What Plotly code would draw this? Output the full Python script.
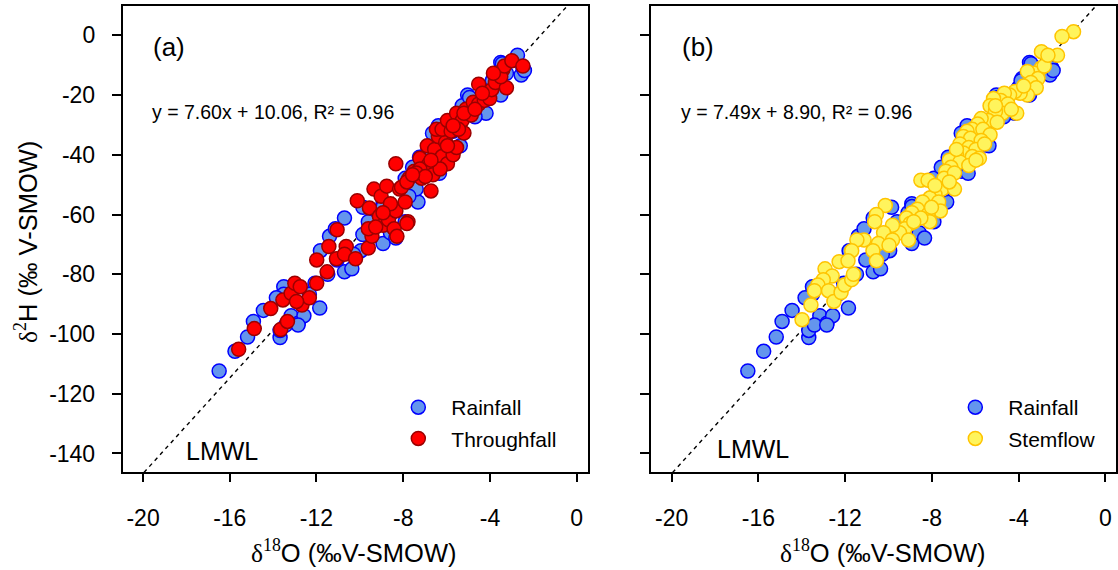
import plotly.graph_objects as go

# ---------------- data ----------------
rain_x = [-16.49, -15.76, -15.18, -14.91, -14.45, -13.68, -13.68, -13.51, -13.51, -13.17,
          -12.84, -12.58, -11.85, -12.07, -11.48, -11.40, -10.71, -10.71, -10.37, -9.86,
          -9.86, -8.93, -8.59, -8.34, -9.10, -7.91, -7.32, -7.40, -7.91, -7.57,
          -7.06, -6.55, -6.38, -5.70, -5.87, -5.37, -5.03, -4.94, -4.18, -4.01,
          -3.50, -3.84, -3.50, -2.73, -2.56, -2.48, -3.24, -4.52, -5.54, -6.89,
          -8.59, -9.95, -10.29, -11.82, -12.33, -13.85, -6.63, -6.21, -7.74, -8.93,
          -9.61, -5.28, -4.69, -11.13, -8.92, -3.43, -2.41, -3.89, -4.94,
          -6.65, -7.25, -6.33, -13.42, -12.85, -11.05]
rain_y = [-112.4, -105.8, -101.0, -95.8, -92.1, -101.2, -98.8, -84.2, -86.7, -93.9,
          -96.4, -93.9, -91.3, -83.0, -80.0, -67.3, -61.2, -79.2, -78.2, -66.7,
          -57.6, -69.7, -66.1, -67.9, -59.4, -62.4, -55.8, -51.5, -47.9, -44.2,
          -40.6, -33.9, -30.3, -32.1, -40.6, -37.0, -20.0, -26.1, -26.1, -17.6,
          -20.0, -14.5, -9.1, -6.7, -13.3, -10.9, -12.7, -22.4, -29.7, -45.5,
          -60.0, -72.1, -73.3, -72.1, -86.7, -87.9, -45.5, -39.4, -53.9, -56.4,
          -62.4, -23.6, -27.3, -64.8, -57.3, -9.5, -11.8, -15.2, -20.8,
          -32.8, -40.8, -46.2, -97.0, -97.0, -75.2]

through_x = [-15.59, -14.87, -14.11, -13.65, -13.34, -13.55, -13.17, -13.00, -12.75, -12.67,
             -12.33, -12.92, -11.99, -11.99, -11.51, -11.43, -11.05, -11.08, -10.63, -10.71,
             -10.20, -10.12, -9.61, -9.56, -9.44, -9.35, -9.02, -9.10, -8.76, -8.93,
             -8.68, -8.42, -8.34, -8.29, -8.17, -8.08, -7.91, -8.34, -7.78, -7.74,
             -7.49, -7.23, -7.06, -7.15, -6.81, -6.72, -6.63, -6.89, -6.55, -6.38,
             -6.21, -6.04, -6.47, -6.21, -5.96, -5.96, -5.70, -5.54, -5.79, -5.54,
             -5.20, -5.28, -5.11, -4.86, -4.77, -4.52, -4.52, -4.26, -4.01, -3.92,
             -3.75, -3.24, -3.41, -3.50, -3.33, -2.99, -2.48, -3.84, -4.35, -5.45,
             -5.70, -6.30, -7.23, -7.40, -6.98, -9.61, -9.27, -7.83, -8.59, -8.93,
             -6.72, -5.96, -5.20, -4.69, -7.83, -7.57]
through_y = [-105.1, -98.2, -91.5, -98.5, -95.8, -88.6, -86.4, -83.0, -84.2, -90.3,
             -87.9, -89.1, -83.0, -75.2, -79.2, -70.7, -65.1, -74.8, -70.7, -73.3,
             -74.8, -55.4, -71.2, -57.8, -67.3, -51.5, -53.9, -60.6, -50.5, -63.6,
             -61.8, -64.8, -58.8, -67.3, -51.5, -50.9, -55.8, -43.0, -62.4, -47.9,
             -45.5, -41.2, -44.8, -47.9, -43.0, -52.1, -46.7, -37.0, -38.2, -33.9,
             -40.6, -35.8, -31.5, -31.5, -28.5, -43.0, -40.0, -37.6, -32.1, -26.1,
             -32.7, -28.5, -24.8, -26.7, -22.4, -16.4, -23.0, -21.8, -21.2, -18.2,
             -15.8, -17.6, -11.5, -13.9, -10.3, -8.5, -10.3, -12.7, -19.4, -31.5,
             -30.3, -44.8, -44.8, -46.1, -47.3, -64.8, -64.2, -63.0, -56.4, -59.4,
             -41.8, -37.0, -26.1, -24.8, -49.1, -46.7]

stem_x = [-1.47, -2.00, -2.95, -2.21, -2.95, -3.27, -3.60, -3.11, -3.44, -3.19,
          -3.60, -3.93, -4.17, -4.42, -4.66, -4.83, -5.16, -5.32, -4.50, -4.09,
          -4.75, -5.07, -5.40, -4.99, -5.73, -5.89, -6.14, -5.65, -5.32, -6.38,
          -6.55, -6.22, -5.73, -6.71, -6.30, -5.97, -5.57, -6.55, -6.87, -6.14,
          -5.81, -7.20, -6.71, -6.30, -7.12, -7.36, -7.44, -6.96, -8.51, -8.18,
          -7.53, -6.96, -7.86, -8.10, -8.43, -7.69, -7.61, -8.67, -8.92, -8.18,
          -9.17, -8.10, -9.00, -9.25, -9.49, -9.08, -9.82, -10.15, -10.56, -10.64,
          -10.23, -10.47, -9.82, -9.98, -10.72, -11.13, -11.46, -11.70, -10.56, -12.28,
          -11.87, -12.93, -12.60, -13.01, -13.26, -13.42, -12.77, -12.52, -12.19, -12.03,
          -11.70, -11.62, -13.58, -13.99, -8.51, -8.02, -8.84, -7.20, -7.86, -6.87,
          -5.97, -5.07, -4.34, -3.77, -2.82, -2.65]
stem_y = [1.2, -0.4, -5.5, -6.7, -10.9, -12.7, -12.1, -14.5, -15.8, -17.6,
          -20.0, -19.4, -18.8, -20.0, -19.4, -21.8, -21.2, -23.6, -23.0, -26.1,
          -26.1, -25.5, -28.5, -29.1, -27.9, -29.7, -31.5, -31.5, -33.3, -32.1,
          -33.9, -34.5, -35.2, -36.4, -37.6, -38.2, -36.4, -39.4, -40.0, -40.6,
          -41.2, -41.8, -42.4, -43.6, -44.2, -45.5, -47.9, -46.1, -48.5, -48.5,
          -51.5, -51.5, -53.3, -54.5, -55.8, -55.8, -58.8, -58.2, -59.4, -60.0,
          -61.2, -62.4, -63.0, -64.8, -66.1, -68.5, -63.6, -57.0, -60.0, -62.4,
          -66.1, -69.7, -68.5, -70.3, -72.1, -68.5, -68.5, -72.1, -75.5, -75.8,
          -75.5, -78.2, -80.6, -81.8, -83.6, -85.5, -85.5, -89.1, -86.1, -83.6,
          -81.8, -80.0, -90.3, -95.2, -61.2, -57.6, -62.4, -49.1, -50.3, -38.2,
          -41.8, -23.6, -24.8, -17.0, -10.3, -6.7]

# local meteoric water line
lmwl_slope = 8.0
lmwl_intercept = 13.3

x_ticks = [-20, -16, -12, -8, -4, 0]
y_ticks = [0, -20, -40, -60, -80, -100, -120, -140]
eq_a = "y = 7.60x + 10.06, R² = 0.96"
eq_b = "y = 7.49x + 8.90, R² = 0.96"

# ---------------- styling ----------------
W, H = 1118, 570
FONT = "Liberation Sans, Arial, sans-serif"
RAIN_FILL, RAIN_LINE = "#6495ED", "#0000FF"
TF_FILL, TF_LINE = "#FF0000", "#9B0000"
SF_FILL, SF_LINE = "#FFF45C", "#FFC400"
MS = 14

xr_a = [-20.935, 0.52]
xr_b = [-20.94, 0.488]
yr = [-146.2, 9.8]

def px(x):
    return x / W

def py(y):
    return 1 - y / H

fig = go.Figure()

def lmwl_trace(xaxis, yaxis, xr):
    xs = [xr[0] - 2, xr[1] + 2]
    ys = [lmwl_slope * v + lmwl_intercept for v in xs]
    return go.Scatter(x=xs, y=ys, mode="lines", xaxis=xaxis, yaxis=yaxis,
                      line=dict(color="black", width=1.4, dash="4px,4px"),
                      showlegend=False, hoverinfo="skip")

def pts(x, y, fill, line, name, xaxis, yaxis, legend, group):
    return go.Scatter(x=x, y=y, mode="markers", name=name, xaxis=xaxis, yaxis=yaxis,
                      legend=legend, legendgroup=group,
                      marker=dict(size=MS, color=fill, line=dict(color=line, width=1.5)),
                      cliponaxis=True)

# panel (a)
fig.add_trace(lmwl_trace("x", "y", xr_a))
fig.add_trace(pts(rain_x, rain_y, RAIN_FILL, RAIN_LINE, "Rainfall", "x", "y", "legend", "a1"))
fig.add_trace(pts(through_x, through_y, TF_FILL, TF_LINE, "Throughfall", "x", "y", "legend", "a2"))
# panel (b)
fig.add_trace(lmwl_trace("x2", "y2", xr_b))
fig.add_trace(pts(rain_x, rain_y, RAIN_FILL, RAIN_LINE, "Rainfall", "x2", "y2", "legend2", "b1"))
fig.add_trace(pts(stem_x, stem_y, SF_FILL, SF_LINE, "Stemflow", "x2", "y2", "legend2", "b2"))

axis_common = dict(showgrid=False, zeroline=False, showline=True, mirror=True,
                   linecolor="black", linewidth=2, ticks="outside", tickcolor="black",
                   tickwidth=1.5, tickfont=dict(family=FONT, size=23, color="black"))

x_text = [str(v) for v in x_ticks]
y_text = [str(v) for v in y_ticks]

ydom = [py(472), py(6)]
leg_common = dict(xanchor="left", yanchor="top", bgcolor="rgba(0,0,0,0)",
                  font=dict(family=FONT, size=21, color="black"),
                  itemwidth=56, tracegroupgap=1, traceorder="grouped")
fig.update_layout(
    width=W, height=H,
    margin=dict(l=0, r=0, t=0, b=0),
    paper_bgcolor="white", plot_bgcolor="white",
    font=dict(family=FONT, color="black"),
    xaxis=dict(domain=[px(123), px(589)], range=xr_a, tickvals=x_ticks, ticktext=x_text,
               ticklen=8, ticklabelstandoff=16, anchor="y", **axis_common),
    yaxis=dict(domain=ydom, range=yr, tickvals=y_ticks, ticktext=y_text, ticklen=9,
               ticklabelstandoff=12, anchor="x", **axis_common),
    xaxis2=dict(domain=[px(652.5), 1.0], range=xr_b, tickvals=x_ticks, ticktext=x_text,
                ticklen=8, ticklabelstandoff=16, anchor="y2", **axis_common),
    yaxis2=dict(domain=ydom, range=yr, tickvals=y_ticks, ticklen=9,
                showticklabels=False, anchor="x2", **axis_common),
    legend=dict(x=px(386), y=py(387), **leg_common),
    legend2=dict(x=px(944), y=py(387), **leg_common),
)

def ann(text, x, y, size, xanchor="left", angle=0):
    fig.add_annotation(text=text, x=px(x), y=py(y), xref="paper", yref="paper",
                       xanchor=xanchor, yanchor="middle", showarrow=False, textangle=angle,
                       font=dict(family=FONT, size=size, color="black"))

SERIF = "Liberation Serif, Times New Roman, serif"
xtitle = f'<span style="font-family:{SERIF}">δ<sup>18</sup></span>O (‰V-SMOW)'
ytitle = f'<span style="font-family:{SERIF}">δ<sup>2</sup></span>H (‰ V-SMOW)'

ann("(a)", 151, 47, 26)
ann("(b)", 681, 47, 26)
ann(eq_a, 150, 112, 19.5)
ann(eq_b, 680, 112, 19.5)
ann("LMWL", 184, 451, 25)
ann("LMWL", 716, 449, 25)
ann(xtitle, 355, 551, 25.5, xanchor="center")
ann(xtitle, 885, 551, 25.5, xanchor="center")
ann(ytitle, 26, 242, 25.5, xanchor="center", angle=-90)

fig.write_html("out.html", config={"displayModeBar": False},
               post_script="document.body.style.margin='0';document.body.style.overflow='hidden';")
